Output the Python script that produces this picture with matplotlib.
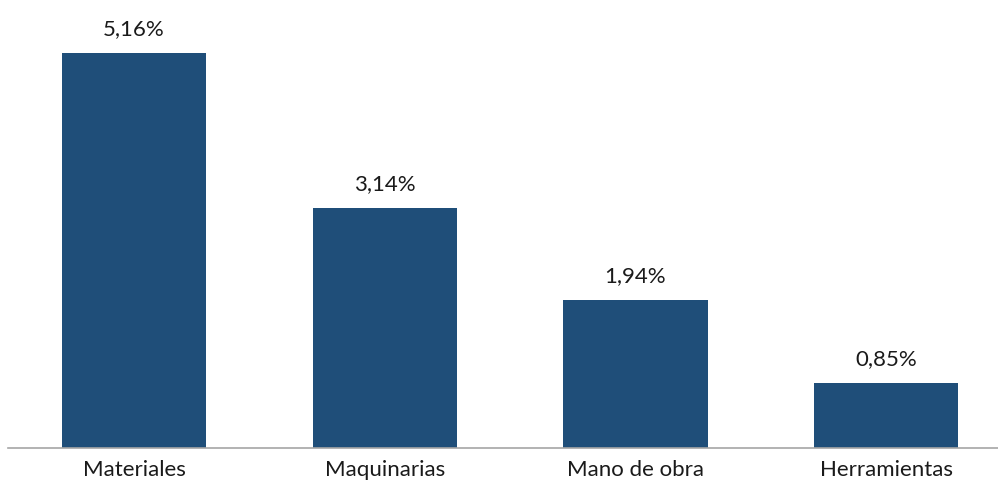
import matplotlib
matplotlib.use('Agg')
import matplotlib.pyplot as plt

categorias = ['Materiales', 'Maquinarias', 'Mano de obra', 'Herramientas']
valores = [5.16, 3.14, 1.94, 0.85]
etiquetas = ['5,16%', '3,14%', '1,94%', '0,85%']

plt.rcParams['font.family'] = ['Lato', 'DejaVu Sans']

fig = plt.figure(figsize=(9.98, 4.93), dpi=100)
ax = fig.add_axes([8/998, 45/493, 990/998, 421/493])

x = range(len(categorias))
ax.bar(x, valores, width=0.575, color='#1F4E79')

for i, v in enumerate(valores):
    ax.annotate(etiquetas[i], (i, v), xytext=(0, 10), textcoords='offset points',
                ha='center', va='bottom', fontsize=16, color='#1a1a1a')

ax.set_xlim(-0.503, 3.446)
ax.set_ylim(0, 5.5)
ax.set_xticks(list(x))
ax.set_xticklabels(categorias, fontsize=16, color='#1a1a1a')
ax.tick_params(axis='x', length=0, pad=9)
ax.set_yticks([])
for s in ['top', 'right', 'left']:
    ax.spines[s].set_visible(False)
ax.spines['bottom'].set_color('#A6A6A6')
ax.spines['bottom'].set_linewidth(1.2)

fig.savefig('out.png', dpi=100)
